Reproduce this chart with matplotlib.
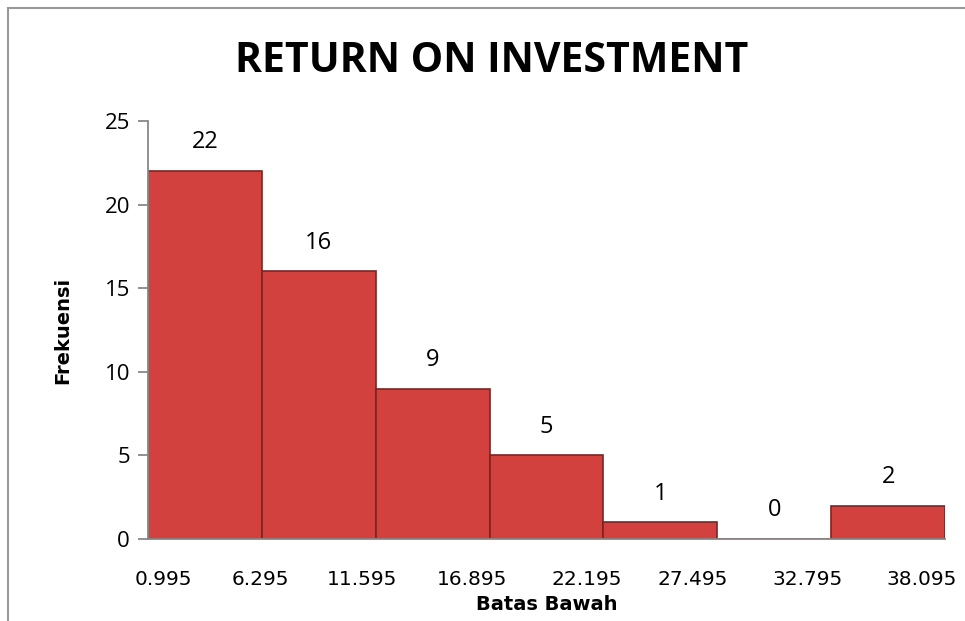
import numpy as np
import matplotlib.pyplot as plt
from matplotlib.patches import Rectangle

# data
edges = [0.995, 6.295, 11.595, 16.895, 22.195, 27.495, 32.795, 38.095]
freq = [22, 16, 9, 5, 1, 0, 2]
tick_labels = ['0.995', '6.295', '11.595', '16.895', '22.195', '27.495', '32.795', '38.095']

fig = plt.figure(figsize=(9.65, 6.21), dpi=100)
ax = fig.add_axes([148/965, 1-539/621, 797/965, 418/621])

lefts = np.array(edges[:-1])
widths = np.diff(edges)
bars = ax.bar(lefts, freq, width=widths, align='edge', color='#d3413e',
              edgecolor='#7e2321', linewidth=1.2)

for x, w, v in zip(lefts, widths, freq):
    ax.text(x + w/2, v + 1.0, str(v), ha='center', va='bottom',
            fontsize=17, family='Open Sans')

ax.set_xlim(edges[0], edges[-1])
ax.set_ylim(0, 25)
ax.set_yticks([0, 5, 10, 15, 20, 25])
ax.tick_params(axis='y', labelsize=16, color='#888888', length=7, width=1.3, pad=6)
for t in ax.get_yticklabels():
    t.set_family('Open Sans')

# excel squeezes the category labels under the bars, not at the edges
label_pos = [1.69, 6.21, 10.96, 16.08, 21.43, 26.37, 31.72, 37.03]
ax.set_xticks(label_pos)
ax.set_xticklabels(tick_labels, fontsize=14.5, family='DejaVu Sans')
ax.tick_params(axis='x', length=0, pad=22)

for s in ['top', 'right']:
    ax.spines[s].set_visible(False)
ax.spines['left'].set_color('#888888')
ax.spines['bottom'].set_color('#888888')
ax.spines['left'].set_linewidth(1.3)
ax.spines['bottom'].set_linewidth(1.3)

ax.set_ylabel('Frekuensi', fontsize=14, fontweight='bold', family='DejaVu Sans', labelpad=23)
ax.set_xlabel('Batas Bawah', fontsize=14, fontweight='bold', family='DejaVu Sans', labelpad=5)

fig.text(492/965, 1-62/621, 'RETURN ON INVESTMENT', ha='center', va='center',
         fontsize=29.5, fontweight='bold', family='Open Sans')

# chart border
fig.patches.append(Rectangle((8/965, -0.1), 1.1, 1 - 8/621 + 0.1, transform=fig.transFigure,
                             fill=False, edgecolor='#999999', linewidth=1.5, clip_on=False))

fig.savefig('out.png', dpi=100)
